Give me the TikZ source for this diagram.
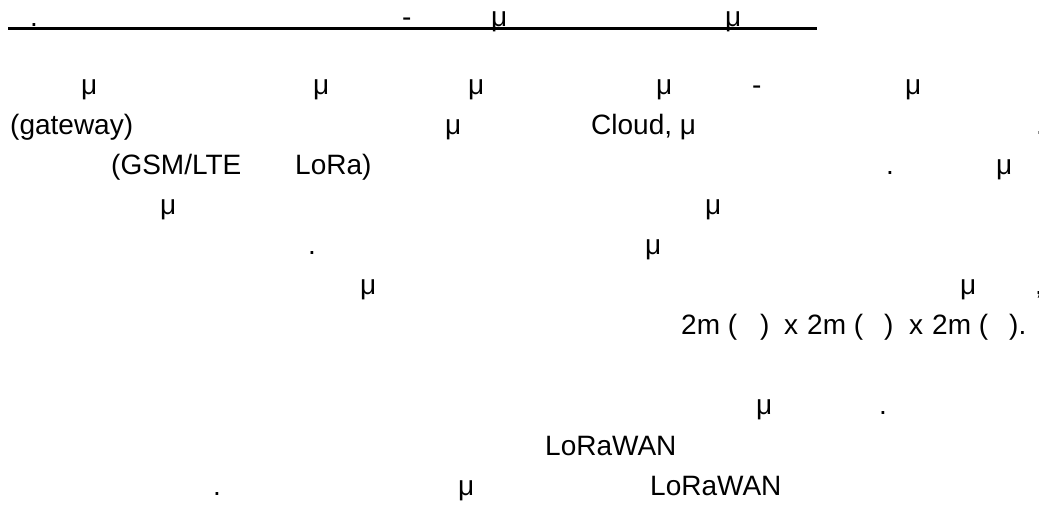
\documentclass[tikz,border=0pt]{standalone}
\usepackage{fontspec}
\setmainfont{Liberation Sans}
\usepackage{tikz}
\tikzset{
    x=1pt, y=-1pt, % one unit is one pixel of the reference, y runs downwards
    }

\begin{document}
\begin{tikzpicture}[
txt/.style={anchor=base west, inner sep=0pt, font=\fontsize{28}{34}\selectfont},
rule/.style={line width=2.6pt},
]
\useasboundingbox (0,0) rectangle (1039,510);
% title, underlined
\node[txt] (tdot) at (30,27) {.};
\node[txt] (tdash) at (402,27) {-};
\node[txt] (tmuA) at (491,27) {μ};
\node[txt] (tmuB) at (725,27) {μ};
\coordinate (rulestart) at (8,28.5);
\coordinate (ruleend) at (817,28.5);
\draw[rule] (rulestart) -- (ruleend);

% first paragraph
\node[txt] (muA) at (81,95) {μ};
\node[txt] (muB) at (313,95) {μ};
\node[txt] (muC) at (468,95) {μ};
\node[txt] (muD) at (656,95) {μ};
\node[txt] (dashA) at (752,95) {-};
\node[txt] (muE) at (905,95) {μ};

\node[txt] (gateway) at (10,135) {(gateway)};
\node[txt] (muF) at (445,135) {μ};
\node[txt] (cloud) at (591,135) {Cloud, μ};
\node[txt] (edgeA) at (1036,135) {.};

\node[txt] (gsm) at (111,175) {(GSM/LTE};
\node[txt] (lora) at (295,175) {LoRa)};
\node[txt] (dotA) at (886,175) {.};
\node[txt] (muG) at (996,175) {μ};

\node[txt] (muH) at (160,215) {μ};
\node[txt] (muI) at (705,215) {μ};

\node[txt] (dotB) at (308,255) {.};
\node[txt] (muJ) at (645,255) {μ};

\node[txt] (muK) at (360,295) {μ};
\node[txt] (muL) at (960,295) {μ};
\node[txt] (edgeB) at (1035,295) {,};

\node[txt] (dimA) at (681,335) {2m (};
\node[txt] (closeA) at (760,335) {)};
\node[txt] (timesA) at (784,335) {x};
\node[txt] (dimB) at (807,335) {2m (};
\node[txt] (closeB) at (884,335) {)};
\node[txt] (timesB) at (909,335) {x};
\node[txt] (dimC) at (932,335) {2m (};
\node[txt] (closeC) at (1009,335) {).};

% second paragraph
\node[txt] (muM) at (756,415) {μ};
\node[txt] (dotC) at (879,415) {.};

\node[txt] (lorawanA) at (545,455) {LoRaWAN};

\node[txt] (dotD) at (213,495) {.};
\node[txt] (muN) at (458,495) {μ};
\node[txt] (lorawanB) at (650,495) {LoRaWAN};
\end{tikzpicture}
\end{document}
